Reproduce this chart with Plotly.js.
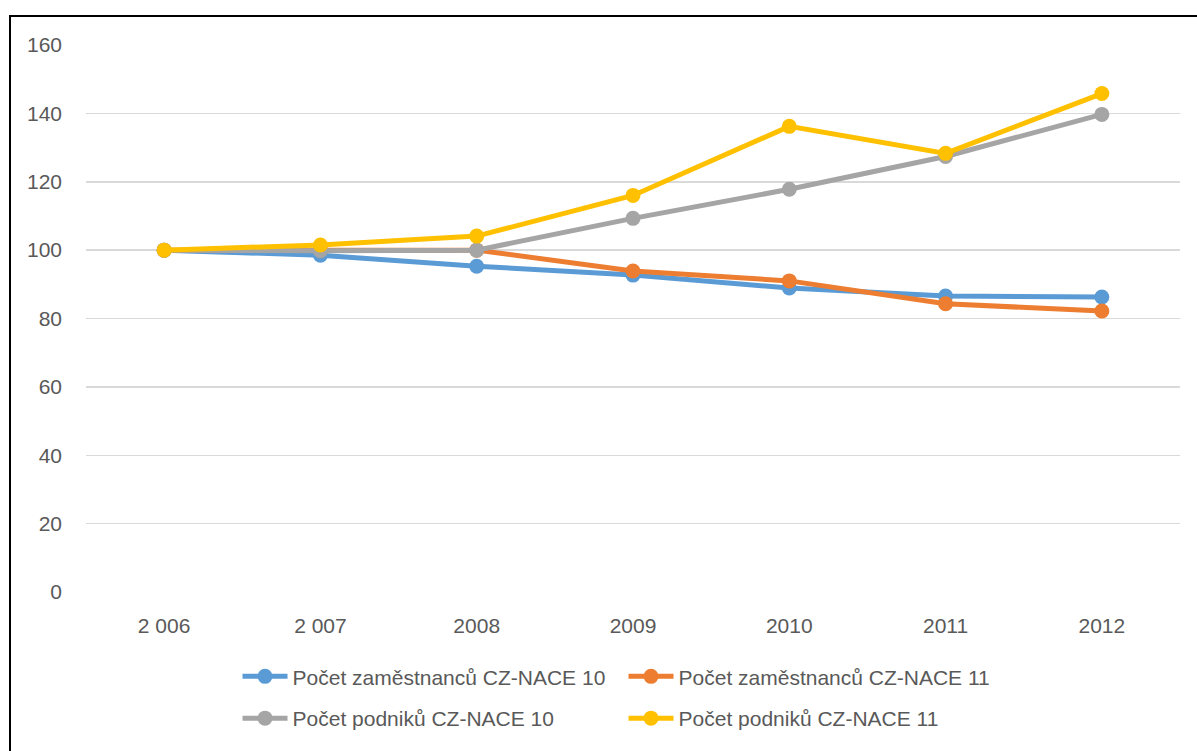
<!DOCTYPE html>
<html>
<head>
<meta charset="utf-8">
<script src="https://cdn.plot.ly/plotly-3.0.1.min.js"></script>
<style>
html,body{margin:0;padding:0;background:#fff;}
#wrap{position:relative;width:1197px;height:751px;overflow:hidden;}
#chart{width:1197px;height:751px;}
#frame{position:absolute;left:9px;top:15px;width:1300px;height:800px;border-left:2px solid #000;border-top:2px solid #000;pointer-events:none;}
</style>
</head>
<body>
<div id="wrap"><div id="chart"></div><div id="frame"></div></div>
<script>
const years = ["2 006", "2 007", "2008", "2009", "2010", "2011", "2012"];
const zamestnanci10 = [100, 98.5, 95.3, 92.7, 88.9, 86.6, 86.3];
const zamestnanci11 = [100, 100.1, 100, 93.9, 91.0, 84.3, 82.2];
const podniky10 = [100, 99.8, 100, 109.3, 117.8, 127.4, 139.7];
const podniky11 = [100, 101.5, 104.1, 116.0, 136.2, 128.3, 145.8];
const seriesNames = ["Počet zaměstnanců CZ-NACE 10", "Počet zaměstnanců CZ-NACE 11", "Počet podniků CZ-NACE 10", "Počet podniků CZ-NACE 11"];
const colors = ["#5B9BD5", "#ED7D31", "#A5A5A5", "#FFC000"];
const yTicks = [0, 20, 40, 60, 80, 100, 120, 140, 160];
const legendRows = ["legend", "legend", "legend2", "legend2"];

const data = [zamestnanci10, zamestnanci11, podniky10, podniky11].map((vals, i) => ({
  x: years, y: vals, name: seriesNames[i], type: "scatter", mode: "lines+markers",
  legend: legendRows[i],
  line: {color: colors[i], width: 5}, marker: {color: colors[i], size: 15}
}));

const legendBase = {orientation: "h", xanchor: "left", yanchor: "middle", entrywidth: 326, entrywidthmode: "pixels",
  itemwidth: 45, bgcolor: "rgba(0,0,0,0)", font: {size: 21, color: "#595959"}};

const layout = {
  width: 1197, height: 751,
  margin: {l: 86, r: 17, t: 45, b: 157},
  paper_bgcolor: "#fff", plot_bgcolor: "#fff",
  font: {family: "Liberation Sans, Arial, sans-serif", size: 21, color: "#595959"},
  xaxis: {type: "category", range: [-0.5, 6.5], showgrid: false, zeroline: false, showline: false, ticks: "", ticklabelstandoff: 19,
          tickfont: {size: 21, color: "#595959"}},
  yaxis: {range: [0, 160], tickvals: yTicks, ticktext: yTicks.map(String), showgrid: true, gridcolor: "#D9D9D9", gridwidth: 1.5,
          zeroline: false, showline: false, ticks: "", ticklabelstandoff: 23, tickfont: {size: 21, color: "#595959"}},
  showlegend: true,
  legend: Object.assign({}, legendBase, {x: 0.1385, y: -0.1548}),
  legend2: Object.assign({}, legendBase, {x: 0.1385, y: -0.2313})
};
Plotly.newPlot("chart", data, layout, {displayModeBar: false, staticPlot: true});
</script>
</body>
</html>
